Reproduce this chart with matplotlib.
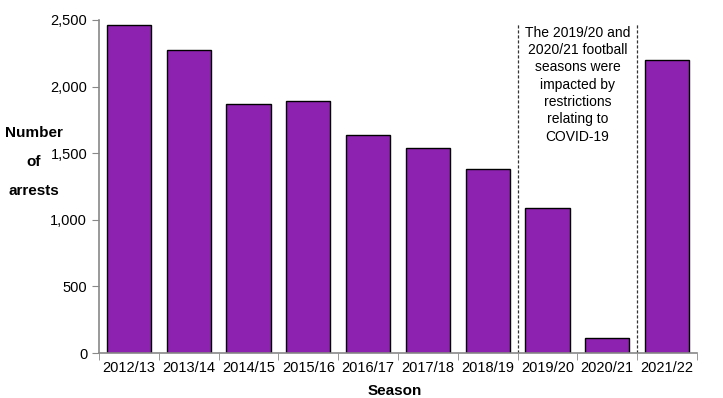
import numpy as np
import matplotlib.pyplot as plt

seasons = ['2012/13', '2013/14', '2014/15', '2015/16', '2016/17',
           '2017/18', '2018/19', '2019/20', '2020/21', '2021/22']
arrests = [2462, 2273, 1869, 1895, 1638, 1542, 1381, 1089, 115, 2198]

note = ('The 2019/20 and\n2020/21 football\nseasons were\nimpacted by\n'
        'restrictions\nrelating to\nCOVID-19')
ylabel_lines = ['Number', 'of', 'arrests']

plt.rcParams['font.family'] = ['Liberation Sans', 'DejaVu Sans']

fig = plt.figure(figsize=(7.23, 3.98), dpi=100)
ax = fig.add_axes([0.137, 0.113, 0.827, 0.837])

x = np.arange(len(seasons))
ax.bar(x, arrests, width=0.74, color='#8D22B1', edgecolor='black', linewidth=1.0)

ax.set_xlim(-0.5, len(seasons) - 0.5)
ax.set_ylim(0, 2500)
ax.set_yticks([0, 500, 1000, 1500, 2000, 2500])
ax.set_yticklabels(['0', '500', '1,000', '1,500', '2,000', '2,500'])
ax.set_xticks(x)
ax.set_xticklabels(seasons)
ax.set_xticks(np.arange(len(seasons) + 1) - 0.5, minor=True)
ax.tick_params(axis='x', which='major', length=0, labelsize=10.5, pad=6)
ax.tick_params(axis='x', which='minor', length=5, color='#888888')
ax.tick_params(axis='y', length=5, color='#888888', labelsize=10.5)

for s in ['top', 'right']:
    ax.spines[s].set_visible(False)
for s in ['left', 'bottom']:
    ax.spines[s].set_color('#888888')
    ax.spines[s].set_linewidth(1.2)

# dashed separators around the covid-affected seasons
for xv in [6.5, 8.5]:
    ax.plot([xv, xv], [0, 2480], color='#333333', linestyle=(0, (2.5, 1.5)), linewidth=0.9)

ax.text(7.5, 2455, note, ha='center', va='top', fontsize=10, linespacing=1.3)

for i, line in enumerate(ylabel_lines):
    fig.text(0.047, 0.665 - i * 0.072, line, ha='center', va='center',
             fontsize=11, fontweight='bold')
fig.text(0.546, 0.0, 'Season', ha='center', va='bottom', fontsize=11, fontweight='bold')

fig.savefig('out.png', dpi=100)
